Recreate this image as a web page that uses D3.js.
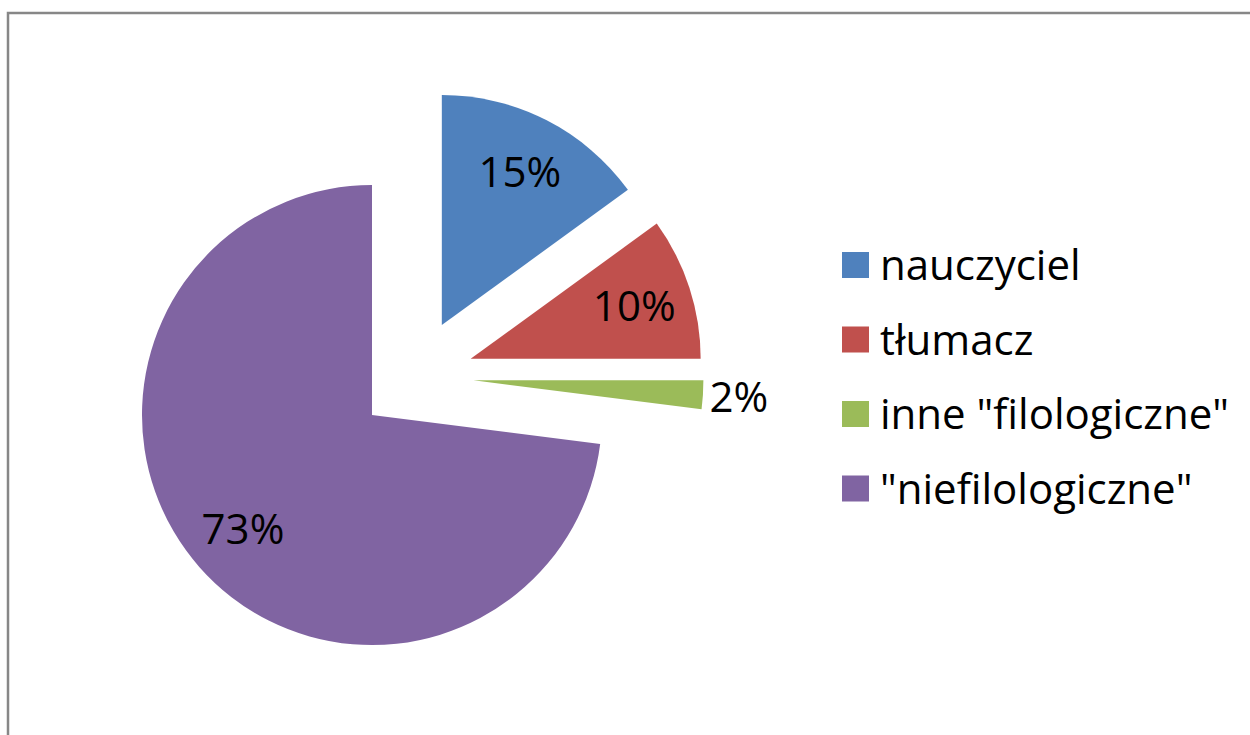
<!DOCTYPE html>
<html>
<head>
<meta charset="utf-8">
<script src="https://cdn.jsdelivr.net/npm/d3@7"></script>
<style>
  html, body { margin: 0; padding: 0; background: #fff; }
  svg { display: block; }
  text { font-family: "Open Sans", "Noto Sans", sans-serif; fill: #000; }
</style>
</head>
<body>
<svg id="chart" width="1250" height="735"></svg>
<script>
const categories = ["nauczyciel", "tłumacz", "inne \"filologiczne\"", "\"niefilologiczne\""];
const values = [15, 10, 2, 73];
const labels = ["15%", "10%", "2%", "73%"];
const colors = ["#4F81BD", "#C0504D", "#9BBB59", "#8064A2"];

const W = 1250, H = 735;
const svg = d3.select("#chart");

// chart frame
svg.append("rect")
  .attr("x", 8).attr("y", 13)
  .attr("width", 1270).attr("height", 760)
  .attr("fill", "none")
  .attr("stroke", "#878787")
  .attr("stroke-width", 2.5);

const cx = 415.5, cy = 376.7, R = 230, explode = 58, labelR = 172;

const pie = d3.pie().sort(null).value(d => d).startAngle(0).endAngle(2 * Math.PI);
const arcs = pie(values);
const arc = d3.arc().innerRadius(0).outerRadius(R);

const g = svg.append("g").attr("transform", `translate(${cx},${cy})`);

const slices = g.selectAll("g.slice")
  .data(arcs)
  .join("g")
  .attr("class", "slice")
  .attr("transform", d => {
    const m = (d.startAngle + d.endAngle) / 2;
    return `translate(${explode * Math.sin(m)},${-explode * Math.cos(m)})`;
  });

slices.append("path")
  .attr("d", arc)
  .attr("fill", (d, i) => colors[i]);

const total = d3.sum(values);
slices.append("text")
  .attr("text-anchor", "middle")
  .attr("dy", "0.36em")
  .attr("font-size", 42)
  .attr("x", d => {
    const m = (d.startAngle + d.endAngle) / 2;
    const r = d.value / total < 0.05 ? R + 36 : labelR;
    return r * Math.sin(m);
  })
  .attr("y", d => {
    const m = (d.startAngle + d.endAngle) / 2;
    const r = d.value / total < 0.05 ? R + 36 : labelR;
    return -r * Math.cos(m);
  })
  .text((d, i) => labels[i]);

// legend
const legend = svg.append("g").attr("transform", "translate(842,252)");
const rowH = 74.5;
const items = legend.selectAll("g")
  .data(categories)
  .join("g")
  .attr("transform", (d, i) => `translate(0,${i * rowH})`);
items.append("rect")
  .attr("width", 27).attr("height", 26)
  .attr("fill", (d, i) => colors[i]);
items.append("text")
  .attr("x", 38).attr("y", 28)
  .attr("font-size", 42)
  .text(d => d);
</script>
</body>
</html>
